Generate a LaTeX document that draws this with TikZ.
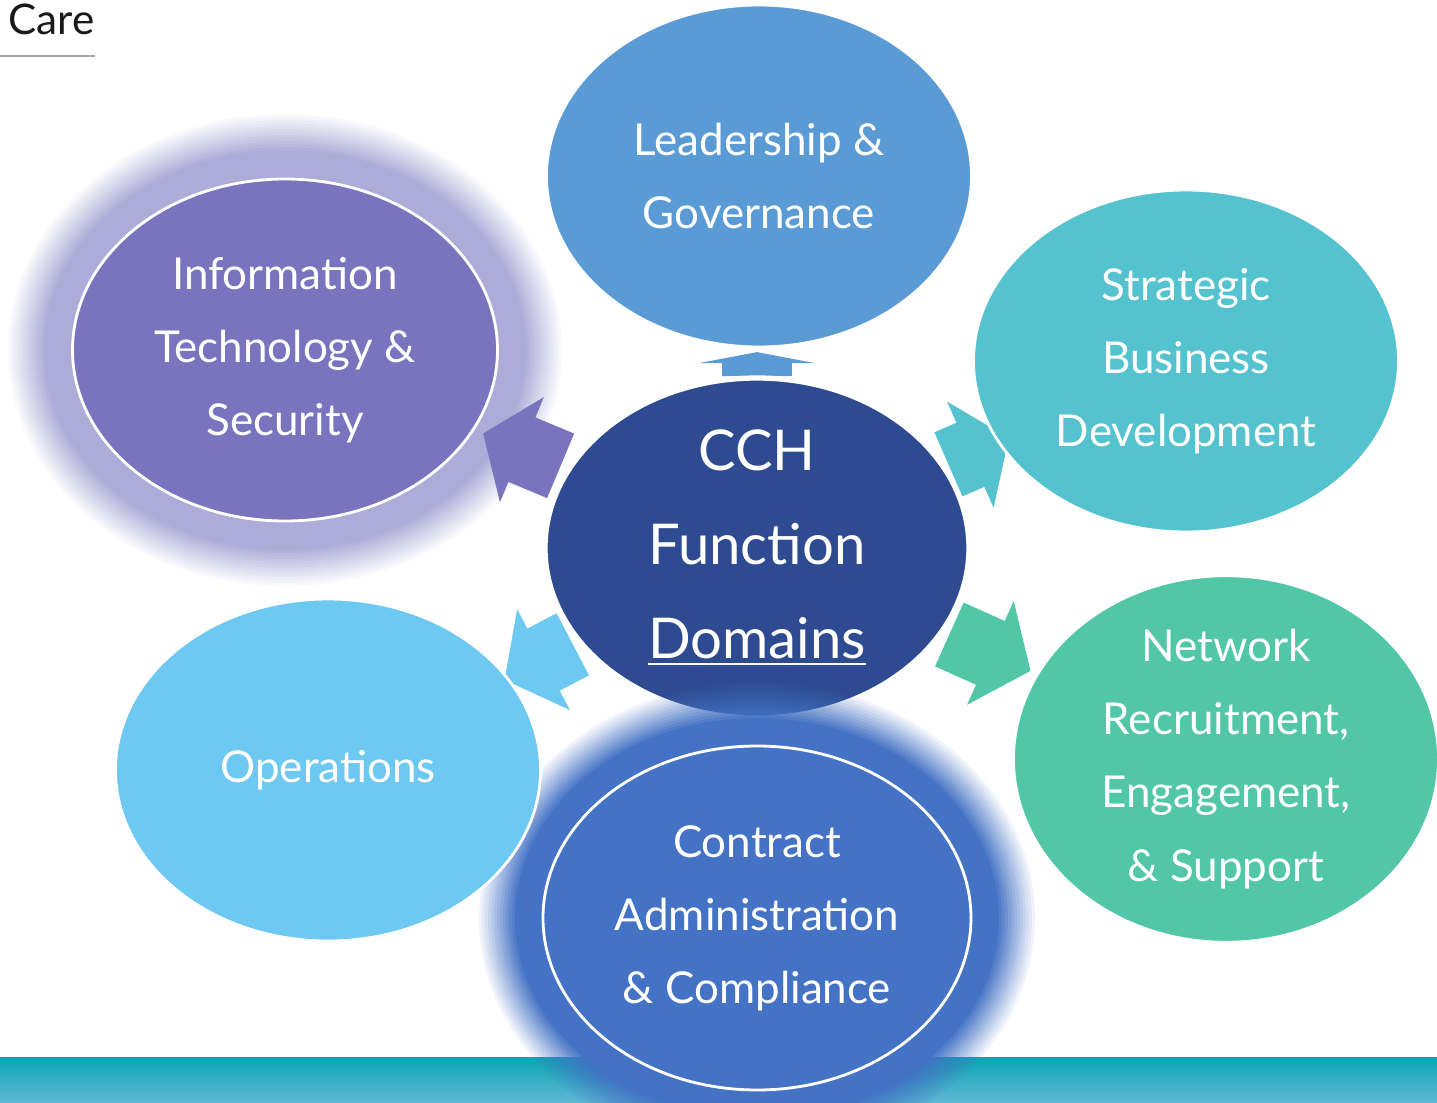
\documentclass[tikz,border=0pt]{standalone}
\usepackage{fontspec}
\setmainfont{Lato}
\usetikzlibrary{shapes.geometric,positioning}
\definecolor{cchcol}{HTML}{2E4A91}
\definecolor{leadcol}{HTML}{5B9BD5}
\definecolor{stratcol}{HTML}{55C3CF}
\definecolor{netcol}{HTML}{52C7A8}
\definecolor{concol}{HTML}{4472C4}
\definecolor{opscol}{HTML}{6DC8F2}
\definecolor{itcol}{HTML}{7974BD}
\definecolor{itglowcol}{HTML}{ADABD7}
\definecolor{bartop}{HTML}{0AA5B2}
\definecolor{barbottom}{HTML}{62B8D5}
\tikzset{domain/.style={ellipse,draw=white,line width=0.8pt,fill=#1,minimum width=4.25cm,minimum height=3.42cm,
        inner sep=0,text=white,align=center,font=\fontsize{12.5}{20.8}\selectfont},
    hubtext/.style={font=\fontsize{16}{26.7}\selectfont}}
\begin{document}
\begin{tikzpicture}

\newcommand\halo[4]
{
    \foreach \o [evaluate=\o as \op using 3/(\o-25)] in {64,61,...,28}
        \fill [#4,opacity=\op] (#1) ellipse [x radius=#2+\o/100,y radius=#3+\o/100];
}

\useasboundingbox (0,0) rectangle (14.37,-11.03);

\shade [top color=bartop,bottom color=barbottom] (0,-10.57) rectangle (14.37,-11.03);

\node (care) [anchor=base west,inner sep=0,font=\fontsize{12}{14}\selectfont,text=black!90] at (0.08,-0.35) {Care};
\draw [gray!70,line width=0.5pt] (0,-0.56) -- (0.95,-0.56);

\coordinate (cch0) at (7.57,-5.48);
\coordinate (it0) at (2.85,-3.50);
\coordinate (con0) at (7.57,-9.18);

\halo{it0}{2.13}{1.72}{itglowcol}

% block arrows out of the hub
\foreach \ang/\from/\len/\head/\wid/\col in {90/172/196/11/58/leadcol,23.6/209/275/42/58/stratcol,
    -24.2/211/300/44/57/netcol,207.6/208/285/44/57/opscol,157.3/213/297/42/57/itcol}
{
    \fill [\col,shift={(cch0)},rotate=\ang,x=0.01cm,y=0.01cm]
        (\from,-35) -- (\len-\head,-35) -- (\len-\head,-\wid) -- (\len,0)
        -- (\len-\head,\wid) -- (\len-\head,35) -- (\from,35) -- cycle;
}

\node (lead) [domain=leadcol] at (7.59,-1.76) {Leadership \&\\Governance};
\node (strat) [domain=stratcol] at (11.86,-3.61) {Strategic\\Business\\Development};
\node (net) [domain=netcol] at (12.26,-7.59) {Network\\Recruitment,\\Engagement,\\\& Support};
\node (it) [domain=itcol] at (it0) {Information\\Technology \&\\Security};

\node (cch) [domain=cchcol,minimum width=4.24cm,minimum height=3.40cm,line width=1.5pt,hubtext] at (cch0) {CCH\\Function\\\underline{Domains}};

\halo{con0}{2.14}{1.72}{concol}
\node (ops) [domain=opscol] at (3.28,-7.70) {Operations};
\node (con) [domain=concol,minimum width=4.28cm,minimum height=3.44cm] at (con0) {Contract\\Administration\\\& Compliance};

\end{tikzpicture}
\end{document}
